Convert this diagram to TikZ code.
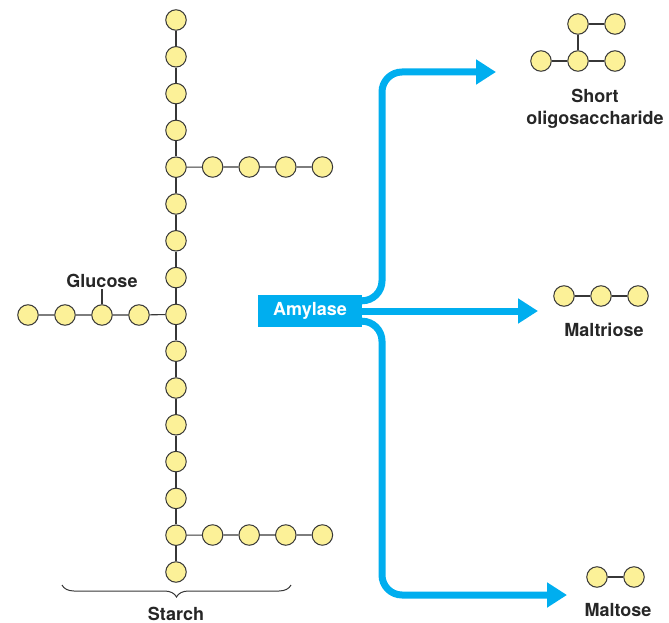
\documentclass[tikz,border=0pt]{standalone}
\usepackage{fontspec}
\setmainfont{TeX Gyre Heros}
\usetikzlibrary{arrows.meta,positioning,decorations.pathreplacing}
\definecolor{sugar}{RGB}{252,241,152}
\definecolor{enzyme}{RGB}{0,174,239}
\definecolor{bond}{RGB}{55,55,55}

\begin{document}
\begin{tikzpicture}[x=1pt,y=-1pt,
  glc/.style={circle,draw=bond,fill=sugar,line width=1pt,minimum size=20.5pt,inner sep=0pt},
  link/.style={draw=bond,line width=1.1pt},
  tag/.style={font=\fontsize{18}{21.5}\selectfont\bfseries,text=black!85,inner sep=1pt,align=center},
  enz/.style={fill=enzyme,text=white,font=\fontsize{18}{21}\selectfont\bfseries,minimum width=104pt,minimum height=32pt,inner sep=0pt},
  flow/.style={-{Triangle[length=20pt,width=24pt]},line width=7pt,draw=enzyme,rounded corners=20pt}]
\useasboundingbox (0,0) rectangle (669,623);

% starch: main chain and branches
\foreach \i in {0,...,15}
  \node[glc] (m\i) at (176,{20+36.8*\i}) {};
\foreach \i [evaluate=\i as \j using int(\i+1)] in {0,...,14}
  \draw[link] (m\i) -- (m\j);
\foreach \k in {1,...,4} {
  \node[glc] (a\k) at ({176+36.6*\k},167) {};
  \node[glc] (b\k) at ({176+36.6*\k},535) {};
  \node[glc] (c\k) at ({176-37*\k},315) {};
}
\draw[link] (m4) -- (a1) -- (a2) -- (a3) -- (a4);
\draw[link] (m14) -- (b1) -- (b2) -- (b3) -- (b4);
\draw[link] (m8) -- (c1) -- (c2) -- (c3) -- (c4);

\node[tag] (glucose) at (102,281) {Glucose};
\draw[link] (c2) -- (glucose.south);

\coordinate (bl) at (62,585);
\coordinate (br) at (291,585);
\draw[decorate,decoration={brace,mirror,amplitude=12pt},draw=bond,line width=1pt] (bl) -- (br);
\node[tag] (starch) at (176,614) {Starch};

% enzyme and products
\node[enz] (amylase) at (310,311) {Amylase};
\coordinate (t1) at (496,72);
\coordinate (t2) at (538,311);
\coordinate (t3) at (567,595);
\draw[flow] ([yshift=-6pt]amylase.north east) -| (382,72) -- (t1);
\draw[flow] (amylase.east) -- (t2);
\draw[flow] ([yshift=6pt]amylase.south east) -| (382,595) -- (t3);

\node[glc] (o1) at (578,24) {};
\node[glc] (o2) at (615,24) {};
\node[glc] (o3) at (541,61) {};
\node[glc] (o4) at (578,61) {};
\node[glc] (o5) at (615,61) {};
\draw[link] (o1) -- (o2);
\draw[link] (o1) -- (o4);
\draw[link] (o3) -- (o4) -- (o5);
\node[tag] (oligo) at (595,109) {Short\\oligosaccharide};

\foreach \k in {1,2,3}
  \node[glc] (r\k) at ({527+37*\k},296) {};
\draw[link] (r1) -- (r2) -- (r3);
\node[tag] (maltriose) at (604,330) {Maltriose};

\node[glc] (s1) at (597,577) {};
\node[glc] (s2) at (634,577) {};
\draw[link] (s1) -- (s2);
\node[tag] (maltose) at (618,610) {Maltose};
\end{tikzpicture}
\end{document}
